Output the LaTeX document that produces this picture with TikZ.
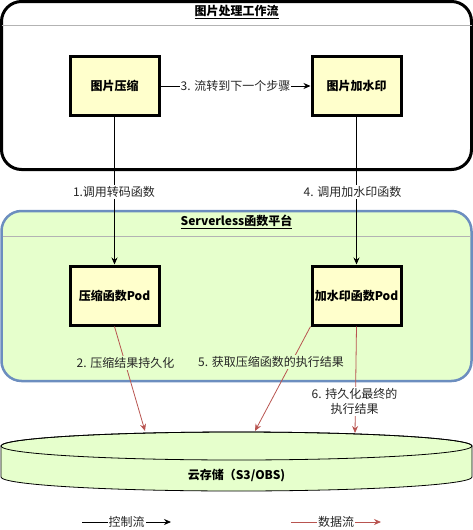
\documentclass[tikz,border=0pt]{standalone}
\usepackage{fontspec}
\setmainfont{Noto Sans CJK SC}
\usetikzlibrary{arrows.meta}
\definecolor{boxfill}{HTML}{FFFFCC}
\definecolor{greenfill}{HTML}{E6FFCC}
\definecolor{blueline}{HTML}{6C8EBF}
\definecolor{redline}{HTML}{B85450}
\definecolor{hdrline}{HTML}{B3B3B3}
\tikzset{
  tip/.style={-{Stealth[length=7pt,width=6pt]}},
  ctrl/.style={tip, draw=black, line width=0.8pt},
  data/.style={tip, draw=redline, line width=0.8pt},
  fnbox/.style={draw=black, line width=3pt, fill=boxfill, minimum width=89pt, minimum height=59pt, inner sep=0pt, font=\fontsize{12}{15}\selectfont\bfseries},
  lbl/.style={font=\fontsize{12}{15}\selectfont, inner sep=1pt, text=black!85},
  title/.style={font=\fontsize{12}{15}\selectfont\bfseries, inner sep=0pt},
}
\begin{document}
\begin{tikzpicture}[x=1pt,y=-1pt,font=\fontsize{12}{15}\selectfont]
\useasboundingbox (0,0) rectangle (473,530);
% workflow container
\draw[line width=3pt, rounded corners=20pt, fill=white] (1.5,1.5) rectangle (471.5,169.5);
\draw[hdrline, line width=0.8pt] (1.5,25) -- (471.5,25);
\node[title] (wftitle) at (236.5,12) {\underline{图片处理工作流}};
% serverless container
\draw[blueline, line width=2.5pt, rounded corners=20pt, fill=greenfill] (1.5,211) rectangle (471.5,381);
\draw[hdrline, line width=0.8pt] (2.5,236) -- (470.5,236);
\node[title] (sltitle) at (236.5,222) {\underline{Serverless函数平台}};
% boxes
\node[fnbox] (compress) at (114.5,86) {图片压缩};
\node[fnbox] (watermark) at (356.5,86) {图片加水印};
\node[fnbox] (cpod) at (114.5,295.5) {压缩函数Pod};
\node[fnbox] (wpod) at (356.5,295.5) {加水印函数Pod};
% control flows
\draw[ctrl] (compress) -- node[lbl, fill=white] {3. 流转到下一个步骤} (watermark);
\draw[ctrl] (compress) -- (cpod);
\node[lbl, fill=white] (l1) at (114,192) {1.调用转码函数};
\draw[ctrl] (watermark) -- (wpod);
\node[lbl, fill=white] (l4) at (352.5,192) {4. 调用加水印函数};
% storage cylinder
\path[draw=black, line width=0.8pt, fill=greenfill] (1,446) -- (1,477)
  arc[start angle=180, end angle=0, x radius=235.5, y radius=14] -- (472,446)
  arc[start angle=0, end angle=-180, x radius=235.5, y radius=14] -- cycle;
\draw[line width=0.8pt] (236.5,446) ellipse[x radius=235.5, y radius=14];
\node[title] (store) at (236.5,476) {云存储（S3/OBS)};
\coordinate (s2) at (145,431);
\coordinate (s5) at (255,431);
\coordinate (s6) at (355,433);
% data flows
\draw[data] (cpod.south) -- (s2);
\node[lbl, fill=greenfill] (l2) at (125.5,363) {2. 压缩结果持久化};
\draw[data] (wpod.south west) -- (s5);
\node[lbl, fill=greenfill] (l5) at (271,362) {5. 获取压缩函数的执行结果};
\draw[data] (wpod.south) -- (s6);
\node[lbl, fill=white, align=center] (l6) at (354.5,401.5) {6. 持久化最终的\\执行结果};
% legend
\coordinate (c1) at (82,522); \coordinate (c2) at (171,522);
\draw[ctrl] (c1) -- node[lbl, fill=white] (lc) {控制流} (c2);
\coordinate (d1) at (291,522); \coordinate (d2) at (381,522);
\draw[data] (d1) -- node[lbl, fill=white] (ld) {数据流} (d2);
\end{tikzpicture}
\end{document}
